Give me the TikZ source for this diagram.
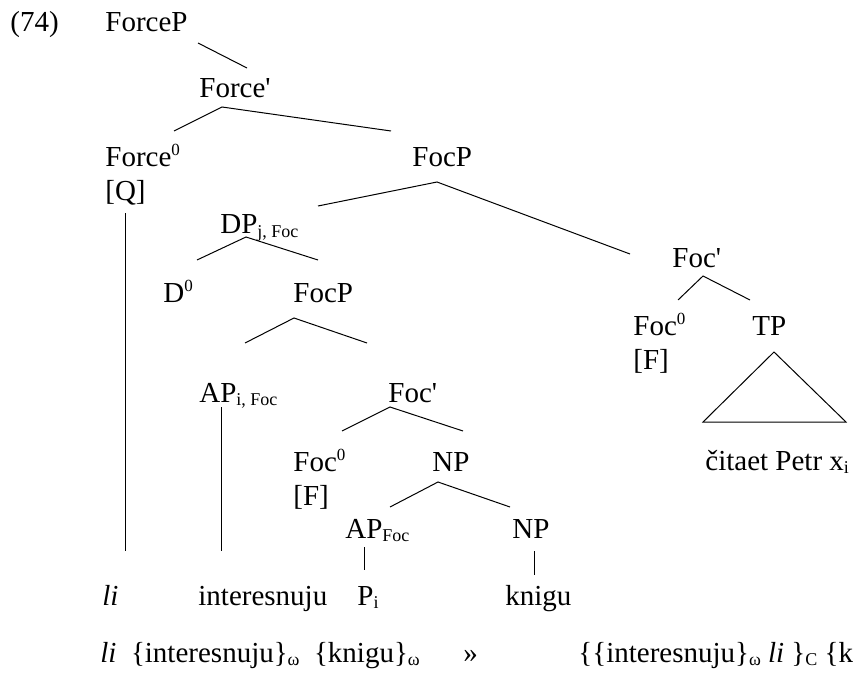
\documentclass[tikz,border=0pt]{standalone}
\usepackage{fontspec}
\setmainfont{Liberation Serif}[Ligatures=TeXOff]

\newcommand\hisup[1]{\raisebox{5.5pt}{\fontsize{8.5}{8.5}\selectfont #1}}
\newcommand\losub[1]{\raisebox{-1.8pt}{\fontsize{9}{9}\selectfont #1}}

\tikzset{
    lbl/.style={anchor=base west, inner sep=0pt, font=\fontsize{14.5}{17}\selectfont},
    branch/.style={line width=0.5pt}
}

\begin{document}
\begin{tikzpicture}[x=0.5pt,y=-0.5pt]
            \useasboundingbox (0,0) rectangle (855,684);

            \node[lbl] (exno) at (10,32) {(74)};
            \node[lbl] (forcep) at (105,32) {ForceP};
            \node[lbl] (forcebar) at (199,98) {Force'};
            \node[lbl] (force0) at (105,167) {Force\hisup{0}};
            \node[lbl] (qfeat) at (105,200.5) {[Q]};
            \node[lbl] (focp) at (412,167) {FocP};

            % left branch: DP
            \node[lbl] (dp) at (220,234) {DP\losub{j, Foc}};
            \node[lbl] (d0) at (163,302) {D\hisup{0}};
            \node[lbl] (focpb) at (293,302) {FocP};
            \node[lbl] (apif) at (199,402) {AP\losub{i, Foc}};
            \node[lbl] (focbarb) at (388,402) {Foc'};
            \node[lbl] (foc0b) at (293,471) {Foc\hisup{0}};
            \node[lbl] (ffeatb) at (293,505) {[F]};
            \node[lbl] (np) at (432,471) {NP};
            \node[lbl] (apfoc) at (345,538) {AP\losub{Foc}};
            \node[lbl] (npb) at (512,538) {NP};

            % right branch: Foc'
            \node[lbl] (focbar) at (672,267) {Foc'};
            \node[lbl] (foc0) at (633,335) {Foc\hisup{0}};
            \node[lbl] (ffeat) at (633,369) {[F]};
            \node[lbl] (tp) at (752,335) {TP};
            \node[lbl] (citaet) at (705,470) {čitaet Petr x\losub{i}};

            % terminals
            \node[lbl] (li) at (102,605) {\textit{li}};
            \node[lbl] (inter) at (198,605) {interesnuju};
            \node[lbl] (pi) at (357,605) {P\losub{i}};
            \node[lbl] (knigu) at (505,605) {knigu};

            \node[lbl] (pros) at (100,662) {\textit{li}\ \ \{interesnuju\}\losub{ω}\ \ \{knigu\}\losub{ω}};
            \node[lbl] (guil) at (463,662) {»};
            \node[lbl] (prosb) at (578,662) {\{\{interesnuju\}\losub{ω} \textit{li} \}\losub{C} \{k};

            \coordinate (fp-a) at (198,43);   \coordinate (fp-b) at (247,68);
            \coordinate (fb-a) at (222,107);  \coordinate (fb-l) at (174,131);  \coordinate (fb-r) at (391,131);
            \coordinate (fc-a) at (437,182);  \coordinate (fc-l) at (318,206);  \coordinate (fc-r) at (630,254);
            \coordinate (dp-a) at (246,237);  \coordinate (dp-l) at (197,260);  \coordinate (dp-r) at (318,260);
            \coordinate (fcb-a) at (294,318); \coordinate (fcb-l) at (245,343); \coordinate (fcb-r) at (367,343);
            \coordinate (fbb-a) at (390,407); \coordinate (fbb-l) at (342,431); \coordinate (fbb-r) at (463,431);
            \coordinate (np-a) at (438,482);  \coordinate (np-l) at (390,507);  \coordinate (np-r) at (510,507);
            \coordinate (fr-a) at (703,276);  \coordinate (fr-l) at (678,300);  \coordinate (fr-r) at (750,300);
            \coordinate (tp-a) at (774,352);  \coordinate (tp-l) at (703,422);  \coordinate (tp-r) at (846,422);

            \draw[branch] (fp-a)--(fp-b);
            \draw[branch] (fb-l)--(fb-a)--(fb-r);
            \draw[branch] (fc-l)--(fc-a)--(fc-r);
            \draw[branch] (dp-l)--(dp-a)--(dp-r);
            \draw[branch] (fcb-l)--(fcb-a)--(fcb-r);
            \draw[branch] (fbb-l)--(fbb-a)--(fbb-r);
            \draw[branch] (np-l)--(np-a)--(np-r);
            \draw[branch] (fr-l)--(fr-a)--(fr-r);
            \draw[branch] (tp-a)--(tp-l)--(tp-r)--cycle;

            % vertical lines down to the terminals
            \coordinate (q-top) at (125,213);   \coordinate (q-foot) at (125,551);
            \coordinate (ap-top) at (221,407);  \coordinate (ap-foot) at (221,551);
            \coordinate (apf-top) at (364,547); \coordinate (apf-foot) at (364,570);
            \coordinate (npb-top) at (534,551); \coordinate (npb-foot) at (534,575);
            \draw[branch] (q-top)--(q-foot);
            \draw[branch] (ap-top)--(ap-foot);
            \draw[branch] (apf-top)--(apf-foot);
            \draw[branch] (npb-top)--(npb-foot);
        \end{tikzpicture}
\end{document}
